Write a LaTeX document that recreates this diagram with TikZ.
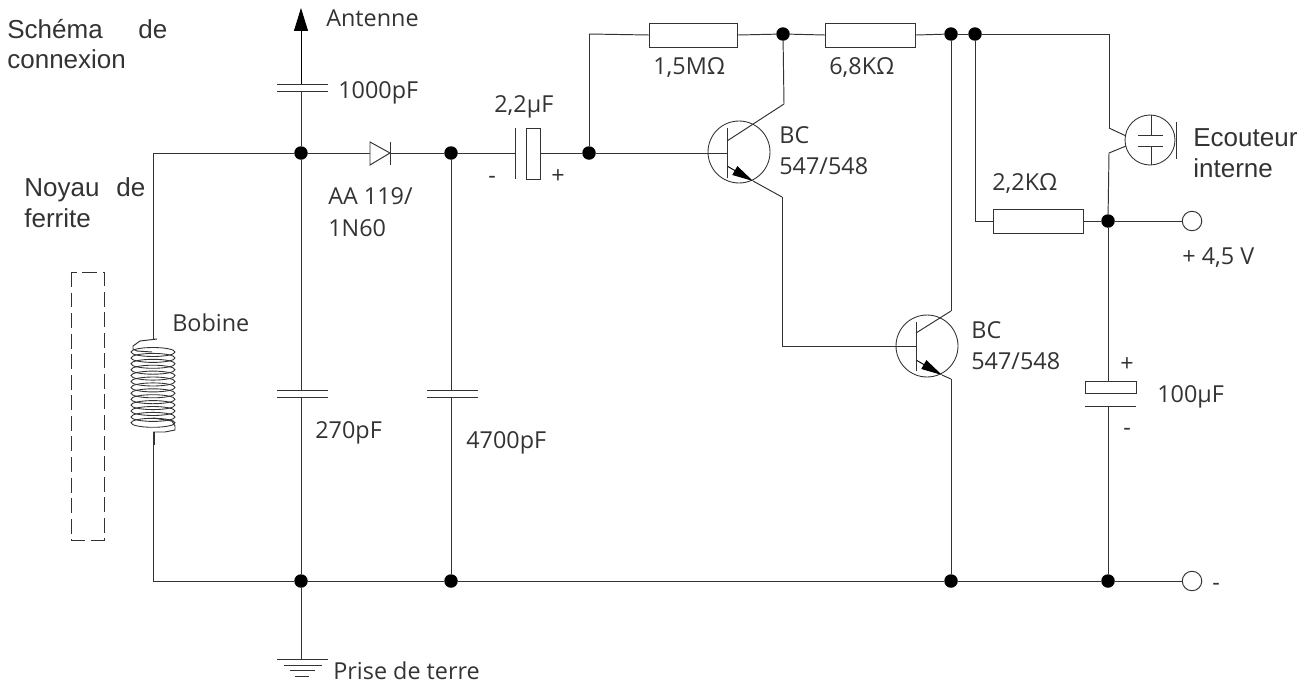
\documentclass[tikz,border=0pt]{standalone}
\usepackage{fontspec}
\setmainfont{Open Sans}
\newfontfamily\helv{Liberation Sans}
\usetikzlibrary{arrows.meta}
\definecolor{ink}{HTML}{333333}
\begin{document}
\begin{tikzpicture}[x=0.02cm, y=-0.02cm]
      \tikzstyle{wire}=[line width=0.55pt, color=ink]
      \tikzstyle{dot}=[shape=circle, fill=black, inner sep=0pt, minimum size=0.27cm]
      \tikzstyle{res}=[draw=ink, line width=0.55pt, shape=rectangle, inner sep=0pt, minimum width=1.8cm, minimum height=0.48cm]
      \tikzstyle{trans}=[draw=ink, line width=0.5pt, shape=circle, inner sep=0pt, minimum size=1.24cm]
      \tikzstyle{term}=[draw=ink, line width=0.55pt, shape=circle, inner sep=0pt, minimum size=0.39cm]
      \tikzstyle{lbl}=[anchor=base west, inner sep=0pt, text=ink, font=\fontsize{13.3}{15}\selectfont]
      \tikzstyle{hlbl}=[anchor=base west, inner sep=0pt, text=ink, font=\helv\fontsize{14.8}{17}\selectfont]
      \tikzstyle{tip}=[-{Triangle[length=0.42cm, width=0.2cm]}]
      \useasboundingbox (0,0) rectangle (1312,683);

      % junctions
      \node[dot] (ja) at (301,153) {};
      \node[dot] (jb) at (451,153) {};
      \node[dot] (jc) at (589,153) {};
      \node[dot] (jd) at (783,34) {};
      \node[dot] (je) at (951,34) {};
      \node[dot] (jf) at (975,34) {};
      \node[dot] (jg) at (1108,221) {};
      \node[dot] (ka) at (301,581) {};
      \node[dot] (kb) at (451,581) {};
      \node[dot] (kc) at (951,581) {};
      \node[dot] (kd) at (1108,581) {};

      % resistors and terminals
      \node[res, minimum width=1.76cm] (r1) at (693.5,35) {};
      \node[res] (r2) at (870.5,35) {};
      \node[res] (r3) at (1038,221) {};
      \node[term] (tplus) at (1192,221) {};
      \node[term] (tminus) at (1192,581) {};

      % transistors
      \node[trans] (t1) at (739,152) {};
      \node[trans] (t2) at (927,346) {};
      \node[trans, minimum size=1cm] (ec) at (1150,140) {};

      % points on the wires
      \coordinate (ant) at (301,8);
      \coordinate (c1a) at (301,84);
      \coordinate (c1b) at (301,91);
      \coordinate (c2a) at (301,390);
      \coordinate (c2b) at (301,397);
      \coordinate (c3a) at (451,390);
      \coordinate (c3b) at (451,397);
      \coordinate (gnd) at (301,659);
      \coordinate (da) at (370,153);
      \coordinate (db) at (390,153);
      \coordinate (ca) at (515,153);
      \coordinate (cb) at (540,153);
      \coordinate (up) at (589,34);
      \coordinate (b1) at (727,153);
      \coordinate (p1) at (727,141);
      \coordinate (p2) at (784,104);
      \coordinate (p3) at (727,166);
      \coordinate (p4) at (753,181);
      \coordinate (p5) at (782,197);
      \coordinate (p6) at (782,346);
      \coordinate (b2) at (916,346);
      \coordinate (q1) at (916,333);
      \coordinate (q2) at (951,311);
      \coordinate (q3) at (916,360);
      \coordinate (q4) at (942,375);
      \coordinate (q5) at (951,379);
      \coordinate (s1) at (1109,34);
      \coordinate (s2) at (1109,128);
      \coordinate (s3) at (1126,136);
      \coordinate (s4) at (1126,146);
      \coordinate (s5) at (1109,153);
      \coordinate (s6) at (975,221);
      \coordinate (s7) at (1108,381);
      \coordinate (s8) at (1108,406);
      \coordinate (w1) at (153,153);
      \coordinate (w2) at (153,339);
      \coordinate (w3) at (153,432);
      \coordinate (w4) at (153,581);

      \foreach \src/\dst in {ja/w1, w1/w2, w3/w4, w4/ka, ka/kb, kb/kc, kc/kd, kd/tminus,
                             ja/c2a, c2b/ka, jb/c3a, c3b/kb, ka/gnd, ja/c1b, ja/da, db/jb,
                             jb/ca, cb/jc, jc/b1, jc/up, up/r1.west, r1.east/jd, jd/r2.west,
                             r2.east/je, je/jf, jf/s1, s1/s2, s2/s3, s4/s5, s5/jg, jf/s6,
                             s6/r3.west, r3.east/jg, jg/tplus, jg/s7, s8/kd, jd/p2, p2/p1,
                             p4/p5, p5/p6, p6/b2, je/q2, q2/q1, q5/kc, q4/q5} {%
        \draw[wire] (\src) to (\dst);
      }
      \draw[wire, -{Triangle[length=0.46cm, width=0.28cm]}, black] (c1a) -- (ant);
      \draw[wire, tip, black] (p3) -- (p4);
      \draw[wire, tip, black] (q3) -- (q4);

      % plates
      \draw[wire] (277,84) -- (328,84) (277,91) -- (328,91);
      \draw[wire] (277,390) -- (328,390) (277,397) -- (328,397);
      \draw[wire] (427,390) -- (478,390) (427,397) -- (478,397);
      \draw[wire] (515,128) -- (515,179);
      \draw[wire] (526,128) rectangle (540,179);
      \draw[wire] (1085,381) rectangle (1136,393);
      \draw[wire] (1085,406) -- (1136,406);
      \draw[wire] (370,142) -- (390,153) -- (370,165) -- cycle;
      \draw[wire] (390,142) -- (390,165);
      \draw[wire] (277,659) -- (328,659) (284,665) -- (322,665) (290,670) -- (315,670) (295,676) -- (309,676);
      \draw[wire] (727,128) -- (727,178);
      \draw[wire] (916,322) -- (916,371);

      % earphone
      \draw[wire] (1138,135) -- (1163,135) (1138,146) -- (1163,146);
      \draw[wire] (1151,115) -- (1151,135) (1151,146) -- (1151,165);
      \draw[wire] (1176,122) -- (1176,159);

      % coil and core
      \foreach \i in {0,...,12} {%
        \draw[wire, line width=0.5pt] (153,{352+\i*5.9}) ellipse [x radius=22, y radius=4.5];
      }
      \draw[wire] (w2) -- (157,339) -- (140,341) -- (133,346) -- (133,349) -- (137,351) -- (152,352);
      \draw[wire] (153,418) -- (172,421) -- (175,426) -- (175,430) -- (165,432) -- (w3);
      \draw[wire] (154,432) -- (154,445);
      \draw[wire, dash pattern=on 8.5pt off 3.2pt] (71,272) rectangle (104,540);

      % labels
      \node[hlbl] (lschema) at (7,38) {\makebox[3.2cm][s]{Schéma\hfill de}};
      \node[hlbl] (lconn) at (7,68) {connexion};
      \node[hlbl] (lnoyau) at (24,196) {\makebox[2.42cm][s]{Noyau\hfill de}};
      \node[hlbl] (lferr) at (24,227) {ferrite};
      \node[lbl] (lant) at (326,26) {Antenne};
      \node[lbl] (lc1) at (338,98) {1000pF};
      \node[lbl] (lc4) at (494,112) {2,2µF};
      \node[lbl] (lm1) at (488,183) {-};
      \node[lbl] (lp1) at (551,183) {+};
      \node[lbl] (ld1) at (328,204) {AA 119/};
      \node[lbl] (ld2) at (328,236) {1N60};
      \node[lbl] (lr1) at (653,74) {1,5MΩ};
      \node[lbl] (lr2) at (829,74) {6,8KΩ};
      \node[lbl] (lr3) at (992,190) {2,2KΩ};
      \node[lbl] (lt1a) at (779,143) {BC};
      \node[lbl] (lt1b) at (779,174) {547/548};
      \node[lbl] (lt2a) at (971,338) {BC};
      \node[lbl] (lt2b) at (971,369) {547/548};
      \node[hlbl] (lec1) at (1193,146) {Ecouteur};
      \node[hlbl] (lec2) at (1193,177) {interne};
      \node[lbl] (lplus) at (1182,264) {+ 4,5 V};
      \node[lbl] (lp2) at (1120,371) {+};
      \node[lbl] (lc5) at (1157,402) {100µF};
      \node[lbl] (lm2) at (1123,435) {-};
      \node[lbl] (lm3) at (1212,590) {-};
      \node[lbl] (lbob) at (172,331) {Bobine};
      \node[lbl] (lc2) at (315,438) {270pF};
      \node[lbl] (lc3) at (466,448) {4700pF};
      \node[lbl] (lterre) at (333,679) {Prise de terre};
    \end{tikzpicture}
\end{document}
